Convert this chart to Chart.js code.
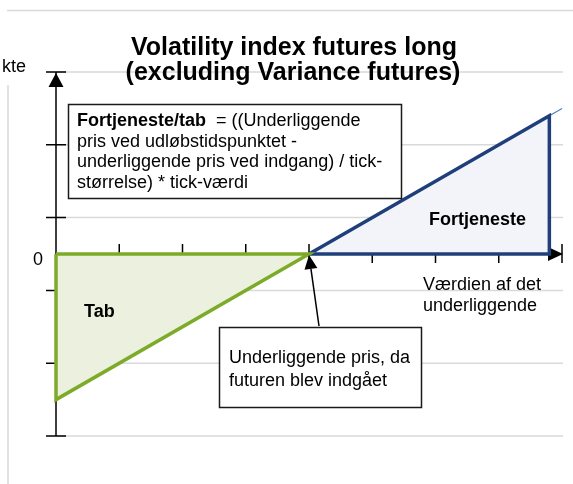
<!DOCTYPE html>
<html>
<head>
<meta charset="utf-8">
<script src="https://cdn.jsdelivr.net/npm/chart.js@4.4.1/dist/chart.umd.min.js"></script>
<style>
  html, body { margin: 0; padding: 0; background: #fff; }
  canvas { display: block; }
</style>
</head>
<body>
<canvas id="payoffChart" width="573" height="484"></canvas>
<script>
// Chart data
const xTicks = [0, 1, 2, 3, 4, 5, 6, 7, 8];
const yTicks = [-5, -3, -1, 1, 3, 5];
const entryPrice = 4;

const lossX = [0, 4, 0, 0];
const lossY = [0, 0, -4, 0];
const profitX = [4, 7.8, 7.8, 4];
const profitY = [0, 3.8, 0, 0];
const payoffX = [0, 8];
const payoffY = [-4, 4];

const titleLines = ['Volatility index futures long', '(excluding Variance futures)'];
const yAxisTitle = 'kte';   // only the tail of the axis title is visible
const formulaBold = 'Fortjeneste/tab';
const formulaLines = ['  = ((Underliggende', 'pris ved udløbstidspunktet -', 'underliggende pris ved indgang) / tick-', 'størrelse) * tick-værdi'];
const entryNote = ['Underliggende pris, da', 'futuren blev indgået'];
const xAxisTitle = ['Værdien af det', 'underliggende'];

const Theme = {
    green: '#7dab29',
    greenFill: '#ebf1de',
    navy: '#1f3f7b',
    navyFill: '#f2f4f9',
    payoff: '#4f81bd',
    grid: '#d9d9d9',
    ink: '#000000',
    font: '"Liberation Sans", Arial, sans-serif'
};

const toPoints = (xs, ys) => xs.map((x, i) => ({ x, y: ys[i] }));

// axes, grid, arrows (drawn under the datasets)
const axesPlugin = {
    id: 'axes',
    beforeDatasetsDraw(chart) {
        const { ctx, scales: { x, y } } = chart;
        const x0 = x.getPixelForValue(0);
        const x8 = x.getPixelForValue(xTicks[xTicks.length - 1]);
        const y0 = y.getPixelForValue(0);
        const yTop = y.getPixelForValue(yTicks[yTicks.length - 1]);
        const yBot = y.getPixelForValue(yTicks[0]);
        ctx.save();

        // frame
        ctx.strokeStyle = Theme.grid;
        ctx.lineWidth = 1.5;
        ctx.beginPath();
        ctx.moveTo(7, 10.5); ctx.lineTo(573, 10.5);
        ctx.moveTo(8, 85); ctx.lineTo(8, 484);
        ctx.stroke();

        // gridlines
        yTicks.forEach(v => {
            const py = y.getPixelForValue(v);
            ctx.beginPath();
            ctx.moveTo(x0, py); ctx.lineTo(x8 + 1, py);
            ctx.stroke();
        });

        // axis lines + ticks
        ctx.strokeStyle = Theme.ink;
        ctx.lineWidth = 1.5;
        ctx.beginPath();
        ctx.moveTo(x0, yTop); ctx.lineTo(x0, yBot);
        ctx.moveTo(x0, y0); ctx.lineTo(x8, y0);
        yTicks.forEach(v => {
            const py = y.getPixelForValue(v);
            ctx.moveTo(x0 - 10, py); ctx.lineTo(x0 + 10, py);
        });
        xTicks.forEach(v => {
            const px = x.getPixelForValue(v);
            ctx.moveTo(px, y0 - 10); ctx.lineTo(px, y0 + 9);
        });
        ctx.stroke();

        // arrow heads
        ctx.fillStyle = Theme.ink;
        ctx.beginPath();
        ctx.moveTo(x0, yTop + 1); ctx.lineTo(x0 - 7.5, yTop + 15); ctx.lineTo(x0 + 7.5, yTop + 15);
        ctx.closePath(); ctx.fill();
        ctx.beginPath();
        ctx.moveTo(x8 + 1, y0); ctx.lineTo(x8 - 14, y0 - 7); ctx.lineTo(x8 - 14, y0 + 7);
        ctx.closePath(); ctx.fill();
        ctx.restore();
    }
};

// texts, boxes and the callout arrow
const notesPlugin = {
    id: 'notes',
    afterDatasetsDraw(chart) {
        const { ctx, scales: { x, y } } = chart;
        ctx.save();
        ctx.fillStyle = Theme.ink;
        ctx.textBaseline = 'alphabetic';

        // title
        ctx.font = 'bold 25px ' + Theme.font;
        ctx.textAlign = 'center';
        ctx.fillText(titleLines[0], 294, 55);
        ctx.fillText(titleLines[1], 293, 80);

        // y title (cut off at the left edge) and zero label
        ctx.font = '18px ' + Theme.font;
        ctx.textAlign = 'right';
        ctx.fillText(yAxisTitle, 26, 72);
        ctx.fillText('0', 43, y.getPixelForValue(0) + 11);

        // formula box
        ctx.fillStyle = '#fff';
        ctx.fillRect(68, 104, 334, 95);
        ctx.strokeStyle = '#1a1a1a';
        ctx.lineWidth = 1.5;
        ctx.strokeRect(68.5, 104.5, 333, 94);
        ctx.fillStyle = Theme.ink;
        ctx.textAlign = 'left';
        ctx.font = 'bold 18px ' + Theme.font;
        ctx.fillText(formulaBold, 77, 126);
        const boldW = ctx.measureText(formulaBold).width;
        ctx.font = '18px ' + Theme.font;
        ctx.fillText(formulaLines[0], 77 + boldW, 126);
        for (let i = 1; i < formulaLines.length; i++) {
            ctx.fillText(formulaLines[i], 77, 126 + i * 20.7);
        }

        // area labels
        ctx.font = 'bold 18px ' + Theme.font;
        ctx.fillText('Fortjeneste', 429, 225);
        ctx.fillText('Tab', 84, 317);

        ctx.font = '18px ' + Theme.font;
        ctx.fillText(xAxisTitle[0], 423, 290);
        ctx.fillText(xAxisTitle[1], 423, 311);

        // entry box
        ctx.fillStyle = '#fff';
        ctx.fillRect(219, 327, 203, 81);
        ctx.strokeRect(219.5, 327.5, 202, 80);
        ctx.fillStyle = Theme.ink;
        ctx.fillText(entryNote[0], 229, 363);
        ctx.fillText(entryNote[1], 229, 386);

        // callout arrow to entry price
        const tipX = x.getPixelForValue(entryPrice);
        const tipY = y.getPixelForValue(0) + 1;
        const tailX = 319, tailY = 326;
        const ang = Math.atan2(tipY - tailY, tipX - tailX);
        const len = 14, half = 6.5;
        const bx = tipX - len * Math.cos(ang), by = tipY - len * Math.sin(ang);
        ctx.strokeStyle = Theme.ink;
        ctx.lineWidth = 1.5;
        ctx.beginPath();
        ctx.moveTo(tailX, tailY); ctx.lineTo(bx, by);
        ctx.stroke();
        ctx.beginPath();
        ctx.moveTo(tipX, tipY);
        ctx.lineTo(bx + half * Math.sin(ang), by - half * Math.cos(ang));
        ctx.lineTo(bx - half * Math.sin(ang), by + half * Math.cos(ang));
        ctx.closePath();
        ctx.fill();
        ctx.restore();
    }
};

new Chart(document.getElementById('payoffChart'), {
    type: 'scatter',
    data: {
        datasets: [
            {
                label: 'Tab',
                data: toPoints(lossX, lossY),
                showLine: true,
                fill: 'shape',
                backgroundColor: Theme.greenFill,
                borderColor: Theme.green,
                borderWidth: 3.5,
                borderJoinStyle: 'miter',
                pointRadius: 0,
                tension: 0,
                clip: false,
                order: 1
            },
            {
                label: 'Fortjeneste',
                data: toPoints(profitX, profitY),
                showLine: true,
                fill: 'shape',
                backgroundColor: Theme.navyFill,
                borderColor: Theme.navy,
                borderWidth: 3.5,
                borderJoinStyle: 'miter',
                pointRadius: 0,
                tension: 0,
                clip: false,
                order: 2
            },
            {
                label: 'Payoff',
                data: toPoints(payoffX, payoffY),
                showLine: true,
                fill: false,
                borderColor: Theme.payoff,
                borderWidth: 1.2,
                pointRadius: 0,
                clip: false,
                order: 3
            }
        ]
    },
    options: {
        responsive: false,
        animation: false,
        layout: { padding: { left: 56, right: 11, top: 72, bottom: 48 } },
        plugins: { legend: { display: false }, tooltip: { enabled: false } },
        scales: {
            x: { type: 'linear', min: xTicks[0], max: xTicks[xTicks.length - 1], display: false },
            y: { type: 'linear', min: yTicks[0], max: yTicks[yTicks.length - 1], display: false }
        }
    },
    plugins: [axesPlugin, notesPlugin]
});
</script>
</body>
</html>
